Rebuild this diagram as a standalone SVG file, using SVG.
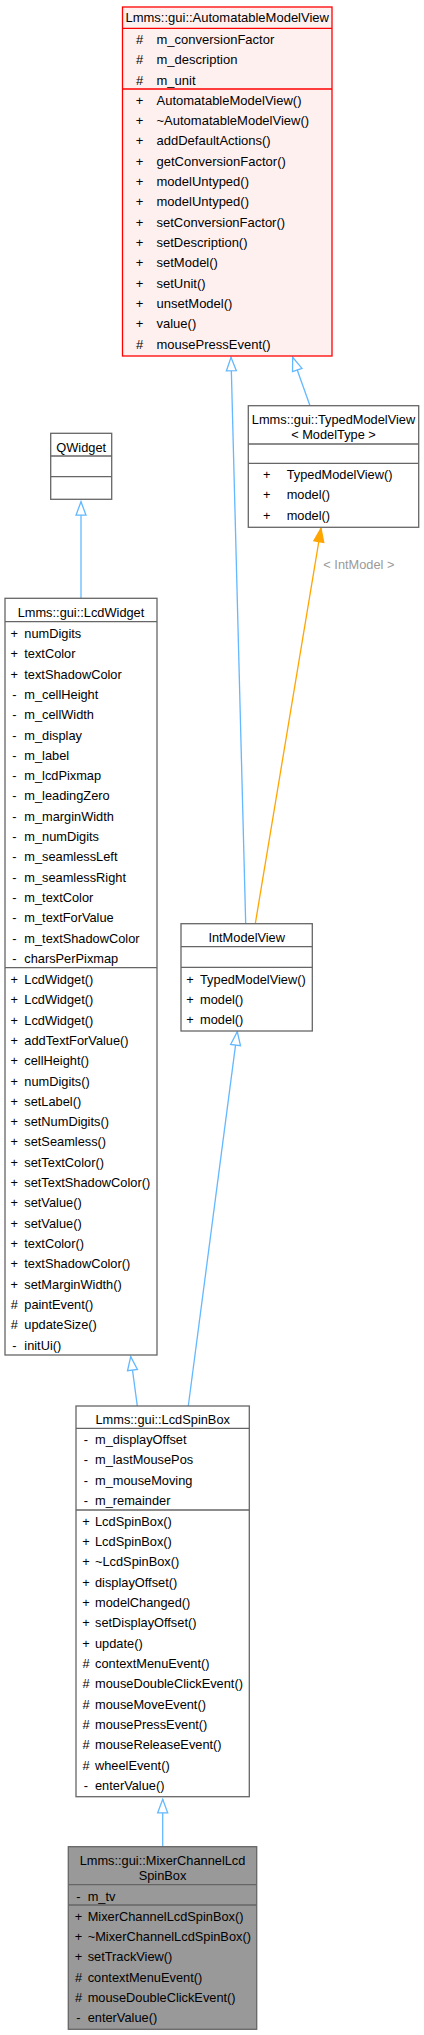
<svg xmlns="http://www.w3.org/2000/svg" width="424" height="2035" viewBox="0 0 424 2035">
<style>
text{font-family:"Liberation Sans",Arial,Helvetica,sans-serif;font-size:12.8px;fill:#000}
.amv text{font-size:13px}
.c{text-anchor:middle}
.box{fill:#fff;stroke:#666;stroke-width:1.3}
.sep{stroke:#666;stroke-width:1.3}
.amvbox{fill:#FFF0F0;stroke:#FF0000;stroke-width:1.3}
.amvsep{stroke:#FF0000;stroke-width:1.3}
.focus{fill:#999;stroke:#666;stroke-width:1.3}
.inh{stroke:#63B8FF;stroke-width:1.3;fill:none;marker-end:url(#hollow)}
.tpl{stroke:#FFA500;stroke-width:1.3;fill:none;marker-end:url(#filled)}
.lbl{fill:#9A9A9A}
</style>
<defs>
<marker id="hollow" markerUnits="userSpaceOnUse" viewBox="0 0 14 10" refX="13.5" refY="5" markerWidth="14" markerHeight="10" orient="auto" overflow="visible">
<path d="M0,0 L13.5,5 L0,10 z" fill="#fff" stroke="#63B8FF" stroke-width="1.3"/>
</marker>
<marker id="filled" markerUnits="userSpaceOnUse" viewBox="0 0 14 10" refX="13.5" refY="5" markerWidth="14" markerHeight="10" orient="auto" overflow="visible">
<path d="M0,0 L13.5,5 L0,10 z" fill="#FFA500" stroke="#FFA500" stroke-width="1.3"/>
</marker>
</defs>

<g id="connectors">
<line class="inh" x1="81" y1="598.3" x2="81" y2="501.7"/>
<line class="inh" x1="137.3" y1="1406" x2="130.7" y2="1356.7"/>
<line class="inh" x1="188.3" y1="1406" x2="237.3" y2="1031.7"/>
<line class="inh" x1="245.7" y1="923.7" x2="231" y2="357.3"/>
<line class="inh" x1="310" y1="405.7" x2="292.7" y2="357.3"/>
<line class="tpl" x1="255.3" y1="923.7" x2="321" y2="528.3"/>
<text class="lbl" x="323.3" y="568.5">&lt; IntModel &gt;</text>
<line class="inh" x1="162.7" y1="1846.7" x2="162.7" y2="1799.3"/>
</g>

<g id="AutomatableModelView" class="amv">
<rect class="amvbox" x="122.5" y="7" width="209.5" height="349"/>
<line class="amvsep" x1="122.5" y1="28.3" x2="332" y2="28.3"/>
<line class="amvsep" x1="122.5" y1="89" x2="332" y2="89"/>
<text class="c" x="227.2" y="22">Lmms::gui::AutomatableModelView</text>
<text class="c" x="139.5" y="44">#</text><text x="156.5" y="44">m_conversionFactor</text>
<text class="c" x="139.5" y="64.3">#</text><text x="156.5" y="64.3">m_description</text>
<text class="c" x="139.5" y="84.7">#</text><text x="156.5" y="84.7">m_unit</text>
<text class="c" x="139.5" y="104.5">+</text><text x="156.5" y="104.5">AutomatableModelView()</text>
<text class="c" x="139.5" y="124.8">+</text><text x="156.5" y="124.8">~AutomatableModelView()</text>
<text class="c" x="139.5" y="145.2">+</text><text x="156.5" y="145.2">addDefaultActions()</text>
<text class="c" x="139.5" y="165.5">+</text><text x="156.5" y="165.5">getConversionFactor()</text>
<text class="c" x="139.5" y="185.8">+</text><text x="156.5" y="185.8">modelUntyped()</text>
<text class="c" x="139.5" y="206.2">+</text><text x="156.5" y="206.2">modelUntyped()</text>
<text class="c" x="139.5" y="226.5">+</text><text x="156.5" y="226.5">setConversionFactor()</text>
<text class="c" x="139.5" y="246.8">+</text><text x="156.5" y="246.8">setDescription()</text>
<text class="c" x="139.5" y="267.1">+</text><text x="156.5" y="267.1">setModel()</text>
<text class="c" x="139.5" y="287.5">+</text><text x="156.5" y="287.5">setUnit()</text>
<text class="c" x="139.5" y="307.8">+</text><text x="156.5" y="307.8">unsetModel()</text>
<text class="c" x="139.5" y="328.1">+</text><text x="156.5" y="328.1">value()</text>
<text class="c" x="139.5" y="348.5">#</text><text x="156.5" y="348.5">mousePressEvent()</text>
</g>

<g id="TypedModelView">
<rect class="box" x="248.3" y="405.7" width="170.4" height="121.6"/>
<line class="sep" x1="248.3" y1="444" x2="418.7" y2="444"/>
<line class="sep" x1="248.3" y1="463.3" x2="418.7" y2="463.3"/>
<text class="c" x="333.5" y="423.8">Lmms::gui::TypedModelView</text>
<text class="c" x="333.5" y="438.8">&lt; ModelType &gt;</text>
<text class="c" x="266.7" y="478.8">+</text><text x="286.7" y="478.8">TypedModelView()</text>
<text class="c" x="266.7" y="499.2">+</text><text x="286.7" y="499.2">model()</text>
<text class="c" x="266.7" y="519.5">+</text><text x="286.7" y="519.5">model()</text>
</g>

<g id="QWidget">
<rect class="box" x="50.7" y="433.3" width="61" height="66"/>
<line class="sep" x1="50.7" y1="456" x2="111.7" y2="456"/>
<line class="sep" x1="50.7" y1="476.7" x2="111.7" y2="476.7"/>
<text class="c" x="81.2" y="451.8">QWidget</text>
</g>

<g id="LcdWidget">
<rect class="box" x="5" y="598.3" width="152" height="756.7"/>
<line class="sep" x1="5" y1="621.7" x2="157" y2="621.7"/>
<line class="sep" x1="5" y1="967.7" x2="157" y2="967.7"/>
<text class="c" x="81" y="617.2">Lmms::gui::LcdWidget</text>
<text class="c" x="14.3" y="637.8">+</text><text x="24.3" y="637.8">numDigits</text>
<text class="c" x="14.3" y="658.1">+</text><text x="24.3" y="658.1">textColor</text>
<text class="c" x="14.3" y="678.5">+</text><text x="24.3" y="678.5">textShadowColor</text>
<text class="c" x="14.3" y="698.8">-</text><text x="24.3" y="698.8">m_cellHeight</text>
<text class="c" x="14.3" y="719.1">-</text><text x="24.3" y="719.1">m_cellWidth</text>
<text class="c" x="14.3" y="739.5">-</text><text x="24.3" y="739.5">m_display</text>
<text class="c" x="14.3" y="759.8">-</text><text x="24.3" y="759.8">m_label</text>
<text class="c" x="14.3" y="780.1">-</text><text x="24.3" y="780.1">m_lcdPixmap</text>
<text class="c" x="14.3" y="800.4">-</text><text x="24.3" y="800.4">m_leadingZero</text>
<text class="c" x="14.3" y="820.8">-</text><text x="24.3" y="820.8">m_marginWidth</text>
<text class="c" x="14.3" y="841.1">-</text><text x="24.3" y="841.1">m_numDigits</text>
<text class="c" x="14.3" y="861.4">-</text><text x="24.3" y="861.4">m_seamlessLeft</text>
<text class="c" x="14.3" y="881.8">-</text><text x="24.3" y="881.8">m_seamlessRight</text>
<text class="c" x="14.3" y="902.1">-</text><text x="24.3" y="902.1">m_textColor</text>
<text class="c" x="14.3" y="922.4">-</text><text x="24.3" y="922.4">m_textForValue</text>
<text class="c" x="14.3" y="942.8">-</text><text x="24.3" y="942.8">m_textShadowColor</text>
<text class="c" x="14.3" y="963.1">-</text><text x="24.3" y="963.1">charsPerPixmap</text>
<text class="c" x="14.3" y="983.8">+</text><text x="24.3" y="983.8">LcdWidget()</text>
<text class="c" x="14.3" y="1004.1">+</text><text x="24.3" y="1004.1">LcdWidget()</text>
<text class="c" x="14.3" y="1024.5">+</text><text x="24.3" y="1024.5">LcdWidget()</text>
<text class="c" x="14.3" y="1044.8">+</text><text x="24.3" y="1044.8">addTextForValue()</text>
<text class="c" x="14.3" y="1065.1">+</text><text x="24.3" y="1065.1">cellHeight()</text>
<text class="c" x="14.3" y="1085.5">+</text><text x="24.3" y="1085.5">numDigits()</text>
<text class="c" x="14.3" y="1105.8">+</text><text x="24.3" y="1105.8">setLabel()</text>
<text class="c" x="14.3" y="1126.1">+</text><text x="24.3" y="1126.1">setNumDigits()</text>
<text class="c" x="14.3" y="1146.4">+</text><text x="24.3" y="1146.4">setSeamless()</text>
<text class="c" x="14.3" y="1166.8">+</text><text x="24.3" y="1166.8">setTextColor()</text>
<text class="c" x="14.3" y="1187.1">+</text><text x="24.3" y="1187.1">setTextShadowColor()</text>
<text class="c" x="14.3" y="1207.4">+</text><text x="24.3" y="1207.4">setValue()</text>
<text class="c" x="14.3" y="1227.8">+</text><text x="24.3" y="1227.8">setValue()</text>
<text class="c" x="14.3" y="1248.1">+</text><text x="24.3" y="1248.1">textColor()</text>
<text class="c" x="14.3" y="1268.4">+</text><text x="24.3" y="1268.4">textShadowColor()</text>
<text class="c" x="14.3" y="1288.8">+</text><text x="24.3" y="1288.8">setMarginWidth()</text>
<text class="c" x="14.3" y="1309.1">#</text><text x="24.3" y="1309.1">paintEvent()</text>
<text class="c" x="14.3" y="1329.4">#</text><text x="24.3" y="1329.4">updateSize()</text>
<text class="c" x="14.3" y="1349.8">-</text><text x="24.3" y="1349.8">initUi()</text>
</g>

<g id="IntModelView">
<rect class="box" x="181" y="923.7" width="131.3" height="107.3"/>
<line class="sep" x1="181" y1="946.7" x2="312.3" y2="946.7"/>
<line class="sep" x1="181" y1="967.3" x2="312.3" y2="967.3"/>
<text class="c" x="246.7" y="941.8">IntModelView</text>
<text class="c" x="190" y="983.5">+</text><text x="200" y="983.5">TypedModelView()</text>
<text class="c" x="190" y="1003.8">+</text><text x="200" y="1003.8">model()</text>
<text class="c" x="190" y="1024.2">+</text><text x="200" y="1024.2">model()</text>
</g>

<g id="LcdSpinBox">
<rect class="box" x="76" y="1406" width="173.3" height="390.7"/>
<line class="sep" x1="76" y1="1428.3" x2="249.3" y2="1428.3"/>
<line class="sep" x1="76" y1="1510" x2="249.3" y2="1510"/>
<text class="c" x="162.7" y="1423.8">Lmms::gui::LcdSpinBox</text>
<text class="c" x="86" y="1443.8">-</text><text x="95" y="1443.8">m_displayOffset</text>
<text class="c" x="86" y="1464.1">-</text><text x="95" y="1464.1">m_lastMousePos</text>
<text class="c" x="86" y="1484.5">-</text><text x="95" y="1484.5">m_mouseMoving</text>
<text class="c" x="86" y="1504.8">-</text><text x="95" y="1504.8">m_remainder</text>
<text class="c" x="86" y="1525.5">+</text><text x="95" y="1525.5">LcdSpinBox()</text>
<text class="c" x="86" y="1545.8">+</text><text x="95" y="1545.8">LcdSpinBox()</text>
<text class="c" x="86" y="1566.2">+</text><text x="95" y="1566.2">~LcdSpinBox()</text>
<text class="c" x="86" y="1586.5">+</text><text x="95" y="1586.5">displayOffset()</text>
<text class="c" x="86" y="1606.8">+</text><text x="95" y="1606.8">modelChanged()</text>
<text class="c" x="86" y="1627.2">+</text><text x="95" y="1627.2">setDisplayOffset()</text>
<text class="c" x="86" y="1647.5">+</text><text x="95" y="1647.5">update()</text>
<text class="c" x="86" y="1667.8">#</text><text x="95" y="1667.8">contextMenuEvent()</text>
<text class="c" x="86" y="1688.1">#</text><text x="95" y="1688.1">mouseDoubleClickEvent()</text>
<text class="c" x="86" y="1708.5">#</text><text x="95" y="1708.5">mouseMoveEvent()</text>
<text class="c" x="86" y="1728.8">#</text><text x="95" y="1728.8">mousePressEvent()</text>
<text class="c" x="86" y="1749.1">#</text><text x="95" y="1749.1">mouseReleaseEvent()</text>
<text class="c" x="86" y="1769.5">#</text><text x="95" y="1769.5">wheelEvent()</text>
<text class="c" x="86" y="1789.8">-</text><text x="95" y="1789.8">enterValue()</text>
</g>

<g id="MixerChannelLcdSpinBox">
<rect class="focus" x="68.3" y="1846.7" width="188.4" height="182.6"/>
<line class="sep" x1="68.3" y1="1884.7" x2="256.7" y2="1884.7"/>
<line class="sep" x1="68.3" y1="1905" x2="256.7" y2="1905"/>
<text class="c" x="162.5" y="1865.2">Lmms::gui::MixerChannelLcd</text>
<text class="c" x="162.5" y="1879.5">SpinBox</text>
<text class="c" x="78.5" y="1900.5">-</text><text x="87.7" y="1900.5">m_tv</text>
<text class="c" x="78.5" y="1920.5">+</text><text x="87.7" y="1920.5">MixerChannelLcdSpinBox()</text>
<text class="c" x="78.5" y="1940.8">+</text><text x="87.7" y="1940.8">~MixerChannelLcdSpinBox()</text>
<text class="c" x="78.5" y="1961.2">+</text><text x="87.7" y="1961.2">setTrackView()</text>
<text class="c" x="78.5" y="1981.5">#</text><text x="87.7" y="1981.5">contextMenuEvent()</text>
<text class="c" x="78.5" y="2001.8">#</text><text x="87.7" y="2001.8">mouseDoubleClickEvent()</text>
<text class="c" x="78.5" y="2022.2">-</text><text x="87.7" y="2022.2">enterValue()</text>
</g>
</svg>
